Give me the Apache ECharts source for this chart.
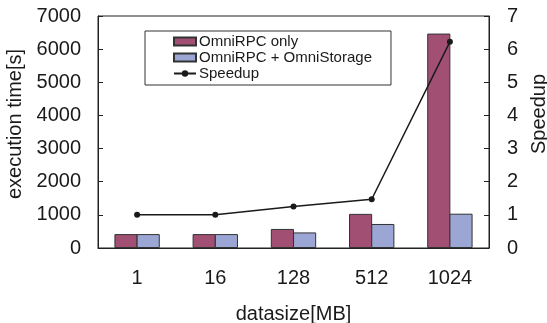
<!DOCTYPE html>
<html><head><meta charset="utf-8">
<script src="https://cdn.jsdelivr.net/npm/echarts@6/dist/echarts.min.js"></script>
<style>html,body{margin:0;padding:0;background:#fff}#c{width:547px;height:323px}</style>
</head><body><div id="c"></div>
<script>
var categories = ['1', '16', '128', '512', '1024'];
var omniRpcOnly = [420, 420, 575, 1030, 6470];
var omniRpcStorage = [420, 420, 470, 725, 1035];
var speedup = [1.0, 1.0, 1.25, 1.47, 6.22];
var timeTicks = {min: 0, max: 7000, interval: 1000};
var speedTicks = {min: 0, max: 7, interval: 1};

var txt = '#1a1a1a';
var font = 'Liberation Sans, Arial, sans-serif';
var chart = echarts.init(document.getElementById('c'));
chart.setOption({
  animation: false,
  textStyle: {fontFamily: font, color: txt},
  grid: {left: 98, right: 58, top: 16, bottom: 75, show: true, borderColor: '#222', borderWidth: 1,
         backgroundColor: 'transparent', containLabel: false, outerBoundsMode: 'none'},
  legend: {
    orient: 'vertical', left: 145, top: 31,
    backgroundColor: '#fff', borderColor: '#333', borderWidth: 1,
    padding: [3, 19, 4, 28], itemWidth: 22, itemHeight: 8, itemGap: 1,
    textStyle: {fontSize: 15, color: txt, fontFamily: font, padding: [0, 0, 0, -2]},
    data: [
      {name: 'OmniRPC only', icon: 'rect'},
      {name: 'OmniRPC + OmniStorage', icon: 'rect'},
      {name: 'Speedup'}
    ]
  },
  xAxis: {
    type: 'category', data: categories,
    name: 'datasize[MB]', nameLocation: 'middle', nameGap: 56,
    nameTextStyle: {fontSize: 20, color: txt},
    axisLine: {lineStyle: {color: '#222'}},
    axisTick: {inside: true, length: 5, lineStyle: {color: '#222'}},
    axisLabel: {fontSize: 20, color: txt, margin: 20}
  },
  yAxis: [{
    type: 'value', min: timeTicks.min, max: timeTicks.max, interval: timeTicks.interval,
    name: 'execution time[s]', nameLocation: 'middle', nameGap: 66, nameRotate: 90,
    nameTextStyle: {fontSize: 20, color: txt, padding: [0, 0, 0, 16]},
    axisLine: {show: true, lineStyle: {color: '#222'}},
    axisTick: {show: true, inside: true, length: 5, lineStyle: {color: '#222'}},
    splitLine: {show: false},
    axisLabel: {fontSize: 20, color: txt, margin: 17, formatter: function (v) { return String(v); }}
  }, {
    type: 'value', min: speedTicks.min, max: speedTicks.max, interval: speedTicks.interval,
    name: 'Speedup', nameLocation: 'middle', nameGap: 36, nameRotate: 90,
    nameTextStyle: {fontSize: 20, color: txt, padding: [0, 0, 0, 36]},
    axisLine: {show: true, lineStyle: {color: '#222'}},
    axisTick: {show: true, inside: true, length: 5, lineStyle: {color: '#222'}},
    splitLine: {show: false},
    axisLabel: {fontSize: 20, color: txt, margin: 18, formatter: function (v) { return String(v); }}
  }],
  series: [{
    name: 'OmniRPC only', type: 'bar', data: omniRpcOnly, barGap: '-4%', barCategoryGap: '42%',
    itemStyle: {color: '#A24F74', borderColor: '#333', borderWidth: 1}
  }, {
    name: 'OmniRPC + OmniStorage', type: 'bar', data: omniRpcStorage, barGap: '-4%', barCategoryGap: '42%',
    itemStyle: {color: '#9BA6D4', borderColor: '#333', borderWidth: 1}
  }, {
    name: 'Speedup', type: 'line', yAxisIndex: 1, data: speedup,
    symbol: 'circle', symbolSize: 6,
    lineStyle: {color: '#1a1a1a', width: 1.5},
    itemStyle: {color: '#1a1a1a'}
  }]
});
</script></body></html>
